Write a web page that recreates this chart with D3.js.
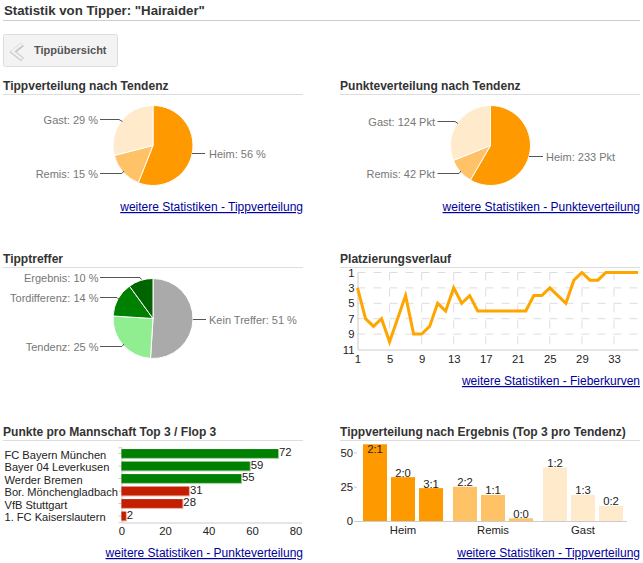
<![CDATA[<html>
<head>
<meta charset="UTF-8">
<script src="https://cdn.jsdelivr.net/npm/d3@7"></script>
<style>
	html, body { margin: 0; padding: 0; background: #fff; }
	svg { display: block; font-family: "Liberation Sans", Arial, sans-serif; }
	.title { font-size: 12.05px; font-weight: bold; fill: #333; }
	.rule { stroke: #ddd; stroke-width: 1; }
	.more { font-size: 12px; fill: #00009c; text-decoration: underline; text-anchor: end; }
	.pielabel { font-size: 11px; fill: #777; }
	.leader { fill: none; stroke: #555; stroke-width: 1; }
	.axis text { font-size: 11.3px; fill: #222; font-family: "Liberation Sans", Arial, sans-serif; }
	.axis path, .axis line { stroke: #ccc; }
	.grid line { stroke: #ddd; stroke-dasharray: 8 8; }
	.val { font-size: 11.3px; fill: #222; }
</style>
</head>
<body>
<svg id="page" width="643" height="563"></svg>
<script type="text/javascript">
var tippLabels = ["Heim", "Remis", "Gast"];
var tippValues = [56, 15, 29];
var punkteLabels = ["Heim", "Remis", "Gast"];
var punkteValues = [233, 42, 124];
var trefferLabels = ["Kein Treffer", "Tendenz", "Tordifferenz", "Ergebnis"];
var trefferValues = [51, 25, 14, 10];
var spieltage = d3.range(1, 37);
var platz = [3, 7, 8, 7, 10, 7, 4, 9, 9, 8, 5, 6, 3, 5, 4, 6, 6, 6, 6, 6, 6, 6, 4, 4, 3, 4, 5, 2, 1, 2, 2, 1, 1, 1, 1, 1];
var platzYTicks = [1, 3, 5, 7, 9, 11];
var platzXTicks = [1, 5, 9, 13, 17, 21, 25, 29, 33];
var teams = ["FC Bayern München", "Bayer 04 Leverkusen", "Werder Bremen", "Bor. Mönchengladbach", "VfB Stuttgart", "1. FC Kaiserslautern"];
var teamPunkte = [72, 59, 55, 31, 28, 2];
var tendenzen = ["Heim", "Remis", "Gast"];
var ergebnisse = [["2:1", "2:0", "3:1"], ["2:2", "1:1", "0:0"], ["1:2", "1:3", "0:2"]];
var ergebnisWerte = [[56, 32, 24], [25, 19, 2], [39, 19, 11]];

var orange = ["#ff9900", "#ffc266", "#ffebcc"];
var greens = ["#aaaaaa", "#90ee90", "#008000", "#006400"];

var vis = d3.select("#page");

function heading(txt, x, y, x2) {
	vis.append("text").attr("class", "title").attr("x", x).attr("y", y).text(txt);
	vis.append("line").attr("class", "rule").attr("x1", x).attr("x2", x2)
		.attr("y1", y + 4.5).attr("y2", y + 4.5);
}

function moreLink(txt, x, y) {
	vis.append("text").attr("class", "more").attr("x", x).attr("y", y).text(txt);
}

// labels: [text, anchor, textX, lineY, lineX1, lineX2, tipX, tipY]
function pieChart(values, colors, cx, cy, labels) {
	var pie = d3.pie().sort(null);
	var arc = d3.arc().innerRadius(0).outerRadius(40);
	vis.append("g").attr("transform", "translate(" + cx + "," + cy + ")")
		.selectAll("path").data(pie(values)).enter()
		.append("path")
		.attr("d", arc)
		.attr("fill", function(d, i) { return colors[i]; })
		.attr("stroke", "#fff")
		.attr("stroke-width", 1);
	labels.forEach(function(l) {
		vis.append("path").attr("class", "leader")
			.attr("d", "M" + l[4] + "," + l[3] + "L" + l[5] + "," + l[3] + "L" + l[6] + "," + l[7]);
		vis.append("text").attr("class", "pielabel").attr("text-anchor", l[1])
			.attr("x", l[2]).attr("y", l[3] + 4).text(l[0]);
	});
}

// header
vis.append("text").attr("class", "title").style("font-size", "13.25px").attr("x", 4).attr("y", 15)
	.text('Statistik von Tipper: "Hairaider"');
vis.append("line").attr("x1", 3).attr("x2", 640).attr("y1", 20.5).attr("y2", 20.5).attr("stroke", "#ccc");

// back button
vis.append("rect").attr("x", 3.5).attr("y", 34.5).attr("width", 114).attr("height", 32).attr("rx", 2)
	.attr("fill", "#f3f3f3").attr("stroke", "#ddd");
vis.append("path").attr("d", "M22.5,44.5L13,52L22.5,59.5").attr("fill", "none")
	.attr("stroke", "#c4c4c4").attr("stroke-width", 4.5);
vis.append("path").attr("d", "M22,44L12.5,51.5L22,59").attr("fill", "none")
	.attr("stroke", "#f2f2f2").attr("stroke-width", 2.5);
vis.append("text").attr("x", 34).attr("y", 54).attr("font-size", "11px").attr("font-weight", "bold")
	.attr("fill", "#555").text("Tippübersicht");

// pies
heading("Tippverteilung nach Tendenz", 3, 90, 303);
pieChart(tippValues, orange, 153, 145.5, [
	[tippLabels[0] + ": " + tippValues[0] + " %", "start", 209, 153.5, 192, 205, 192, 153.5],
	[tippLabels[1] + ": " + tippValues[1] + " %", "end", 98, 173.5, 100, 122, 124, 171],
	[tippLabels[2] + ": " + tippValues[2] + " %", "end", 98, 119.5, 100, 119, 122.5, 121.5]
]);
moreLink("weitere Statistiken - Tippverteilung", 303, 211);

heading("Punkteverteilung nach Tendenz", 340, 90, 640);
pieChart(punkteValues, orange, 490.5, 145.5, [
	[punkteLabels[0] + ": " + punkteValues[0] + " Pkt", "start", 546, 156.5, 529, 543, 529, 156.5],
	[punkteLabels[1] + ": " + punkteValues[1] + " Pkt", "end", 435, 173.5, 437.5, 459, 461, 171],
	[punkteLabels[2] + ": " + punkteValues[2] + " Pkt", "end", 435, 121.5, 437.5, 455, 458, 123.5]
]);
moreLink("weitere Statistiken - Punkteverteilung", 640, 211);

heading("Tipptreffer", 3, 263, 303);
pieChart(trefferValues, greens, 153, 318.5, [
	[trefferLabels[0] + ": " + trefferValues[0] + " %", "start", 209, 319.5, 193, 206, 193, 319.5],
	[trefferLabels[1] + ": " + trefferValues[1] + " %", "end", 98.5, 346.5, 100, 122, 124, 344],
	[trefferLabels[2] + ": " + trefferValues[2] + " %", "end", 98.5, 297.5, 100, 117, 119, 299.5],
	[trefferLabels[3] + ": " + trefferValues[3] + " %", "end", 98.5, 277.5, 100, 140, 141.5, 279.5]
]);

// Platzierungsverlauf
heading("Platzierungsverlauf", 340, 263, 640);
var lx = d3.scaleLinear().domain([1, 36]).range([357.5, 638]);
var ly = d3.scaleLinear().domain([1, 11]).range([272.5, 349.5]);

vis.append("g").attr("class", "grid").selectAll("line").data(platzYTicks.slice(0, -1)).enter().append("line")
	.attr("x1", lx(1)).attr("x2", lx(36))
	.attr("y1", function(d) { return ly(d); }).attr("y2", function(d) { return ly(d); });
vis.append("g").attr("class", "grid").selectAll("line").data(platzXTicks.slice(1)).enter().append("line")
	.attr("x1", function(d) { return lx(d); }).attr("x2", function(d) { return lx(d); })
	.attr("y1", ly(1)).attr("y2", ly(11));

vis.append("g").attr("class", "axis").attr("transform", "translate(0," + ly(11) + ")")
	.call(d3.axisBottom(lx).tickValues(platzXTicks).tickSize(0).tickPadding(5).tickFormat(d3.format("d")));
vis.append("g").attr("class", "axis").attr("transform", "translate(" + lx(1) + ",0)")
	.call(d3.axisLeft(ly).tickValues(platzYTicks).tickSize(0).tickPadding(3).tickFormat(d3.format("d")));

var platzLine = d3.line()
	.x(function(d, i) { return lx(spieltage[i]); })
	.y(function(d) { return ly(d); });
vis.append("path").datum(platz).attr("d", platzLine)
	.attr("fill", "none").attr("stroke", "#ffa500").attr("stroke-width", 3);
moreLink("weitere Statistiken - Fieberkurven", 640, 385);

// Punkte pro Mannschaft
heading("Punkte pro Mannschaft Top 3 / Flop 3", 3, 436, 303);
var bx = d3.scaleLinear().domain([0, 82.8]).range([121.5, 301.5]);
var by = d3.scaleBand().domain(teams).range([447.25, 522.25]).paddingInner(0.3).paddingOuter(0.15);

vis.append("g").attr("class", "axis").attr("transform", "translate(0,522.5)")
	.call(d3.axisBottom(bx).tickValues([0, 20, 40, 60, 80]).tickSize(0).tickPadding(4).tickFormat(d3.format("d")));
vis.append("g").attr("class", "axis").attr("transform", "translate(121.5,0)")
	.call(d3.axisLeft(by).tickSize(3).tickPadding(3))
	.call(function(g) {
		g.selectAll("text").attr("text-anchor", "start").attr("x", -117).attr("dy", "0.45em")
			.style("font-size", "11.1px");
	});

// pale edge below and right of each bar
vis.append("g").selectAll("rect").data(teamPunkte).enter().append("rect")
	.attr("x", bx(0))
	.attr("y", function(d, i) { return by(teams[i]); })
	.attr("width", function(d) { return bx(d) - bx(0) + 1; })
	.attr("height", by.bandwidth() + 1)
	.attr("fill", function(d, i) { return i < 3 ? "#008000" : "#c41e00"; })
	.attr("opacity", 0.4);
vis.append("g").selectAll("rect").data(teamPunkte).enter().append("rect")
	.attr("x", bx(0))
	.attr("y", function(d, i) { return by(teams[i]); })
	.attr("width", function(d) { return bx(d) - bx(0); })
	.attr("height", by.bandwidth())
	.attr("fill", function(d, i) { return i < 3 ? "#008000" : "#c41e00"; });
vis.append("g").selectAll("text").data(teamPunkte).enter().append("text")
	.attr("class", "val")
	.attr("x", function(d) { return bx(d) + 1; })
	.attr("y", function(d, i) { return by(teams[i]) + 7; })
	.text(function(d) { return d; });
moreLink("weitere Statistiken - Punkteverteilung", 303, 557);

// Tippverteilung nach Ergebnis
heading("Tippverteilung nach Ergebnis (Top 3 pro Tendenz)", 340, 436, 640);
var gx = d3.scaleBand().domain(tendenzen).range([358, 628]);
var ix = d3.scaleBand().domain([0, 1, 2]).range([0, gx.bandwidth()]).paddingInner(1 / 7).paddingOuter(0.178);
var cy = d3.scaleLinear().domain([0, 50]).range([521, 452.5]);

vis.append("g").attr("class", "axis").attr("transform", "translate(0,521)")
	.call(d3.axisBottom(gx).tickSize(0).tickPadding(5))
	.select(".domain").attr("d", "M355,0.5H627");
vis.append("g").attr("class", "axis").attr("transform", "translate(357,0)")
	.call(d3.axisLeft(cy).tickValues([0, 25, 50]).tickSize(3).tickPadding(1).tickFormat(d3.format("d")))
	.select(".domain").remove();

tendenzen.forEach(function(t, g) {
	var col = vis.append("g").attr("transform", "translate(" + gx(t) + ",0)");
	col.selectAll("rect").data(ergebnisWerte[g]).enter().append("rect")
		.attr("x", function(d, i) { return ix(i); })
		.attr("y", function(d) { return cy(d); })
		.attr("width", ix.bandwidth())
		.attr("height", function(d) { return cy(0) - cy(d); })
		.attr("fill", orange[g]);
	col.selectAll("text").data(ergebnisWerte[g]).enter().append("text")
		.attr("class", "val")
		.attr("text-anchor", "middle")
		.attr("x", function(d, i) { return ix(i) + ix.bandwidth() / 2; })
		.attr("y", function(d) { return d > 50 ? cy(d) + 9 : cy(d) - 0.5; })
		.text(function(d, i) { return ergebnisse[g][i]; });
});
moreLink("weitere Statistiken - Tippverteilung", 640, 557);
</script>
</body>
</html>
]]>
